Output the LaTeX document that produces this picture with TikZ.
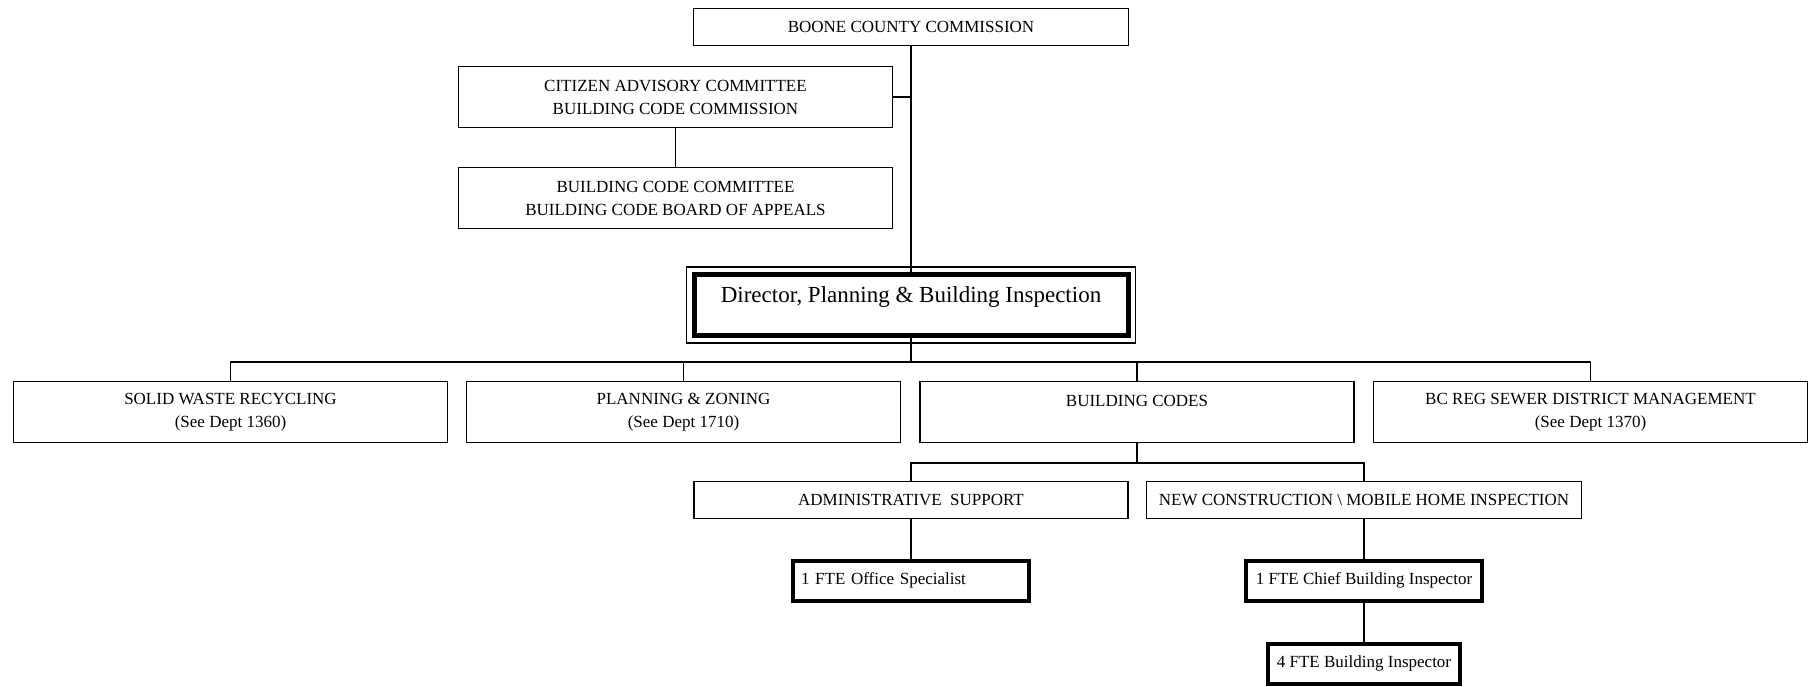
\documentclass[tikz,border=0pt]{standalone}
\usepackage{fontspec}
\setmainfont{Liberation Serif}
\usepackage{tikz}

\tikzset{
  box/.style={draw, line width=1.5pt, inner sep=0pt, align=center,
    font=\fontsize{17}{23}\selectfont},
  thickbox/.style={box, line width=4pt},
  link/.style={line width=1.2pt}
}

\begin{document}
\begin{tikzpicture}[x=1pt, y=-1pt]
      \useasboundingbox (0,0) rectangle (1814,686);
      % Board and committees
      \node[box, minimum width=435pt, minimum height=37pt] (commission)
      at (911,27) {BOONE COUNTY COMMISSION};
      \node[box, minimum width=434pt, minimum height=61pt] (citizen)
      at (675.5,97) {CITIZEN ADVISORY COMMITTEE\\BUILDING CODE COMMISSION};
      \node[box, minimum width=434pt, minimum height=61pt] (codecomm)
      at (675.5,198) {BUILDING CODE COMMITTEE\\BUILDING CODE BOARD OF APPEALS};
      % Director
      \node[thickbox, line width=5pt, minimum width=434pt, minimum height=61pt,
      font=\fontsize{23}{28}\selectfont, text height=16pt, text depth=21pt]
      (director) at (911,305) {Director, Planning \& Building Inspection};
      \draw[line width=1.2pt] ([shift={(-5,-5)}]director.north west)
      rectangle ([shift={(5,5)}]director.south east);
      % Divisions
      \node[box, minimum width=434pt, minimum height=61pt] (waste)
      at (230.5,412) {SOLID WASTE RECYCLING\\(See Dept 1360)};
      \node[box, minimum width=434pt, minimum height=61pt] (planning)
      at (683.5,412) {PLANNING \& ZONING\\(See Dept 1710)};
      \node[box, minimum width=434pt, minimum height=61pt] (codes)
      at (1137,412) {BUILDING CODES\\\mbox{}};
      \node[box, minimum width=434pt, minimum height=61pt] (sewer)
      at (1590.5,412) {BC REG SEWER DISTRICT MANAGEMENT\\(See Dept 1370)};
      % Sections
      \node[box, minimum width=434pt, minimum height=37pt] (admin)
      at (911,500) {ADMINISTRATIVE\ \ SUPPORT};
      \node[box, minimum width=435pt, minimum height=37pt] (newcons)
      at (1364,500) {NEW CONSTRUCTION \textbackslash\ MOBILE HOME INSPECTION};
      % Staff
      \node[thickbox, text width=220pt, inner xsep=8pt, align=left,
      minimum height=40pt] (office) at (911,580.5) {1 FTE Office Specialist};
      \node[thickbox, minimum width=236pt, minimum height=40pt] (chief)
      at (1364,580.5) {1 FTE Chief Building Inspector};
      \node[thickbox, minimum width=192pt, minimum height=40pt] (inspector)
      at (1364,663.5) {4 FTE Building Inspector};
      % Lines
      \coordinate (bus) at (911,362);
      \coordinate (subbus) at (1137,463);
      \draw[link] (commission) -- (director);
      \draw[link] (citizen.east) -- (citizen.east -| commission.south);
      \draw[link] (citizen) -- (codecomm);
      \draw[link] ([yshift=5pt]director.south) -- (bus);
      \draw[link] (waste.north) |- (bus) -| (sewer.north);
      \draw[link] (planning.north) -- (planning.north |- bus);
      \draw[link] (codes.north) -- (codes.north |- bus);
      \draw[link] (codes) -- (subbus);
      \draw[link] (admin.north) |- (subbus) -| (newcons.north);
      \draw[link] (admin) -- (office);
      \draw[link] (newcons) -- (chief);
      \draw[link] (chief) -- (inspector);
    \end{tikzpicture}
\end{document}
